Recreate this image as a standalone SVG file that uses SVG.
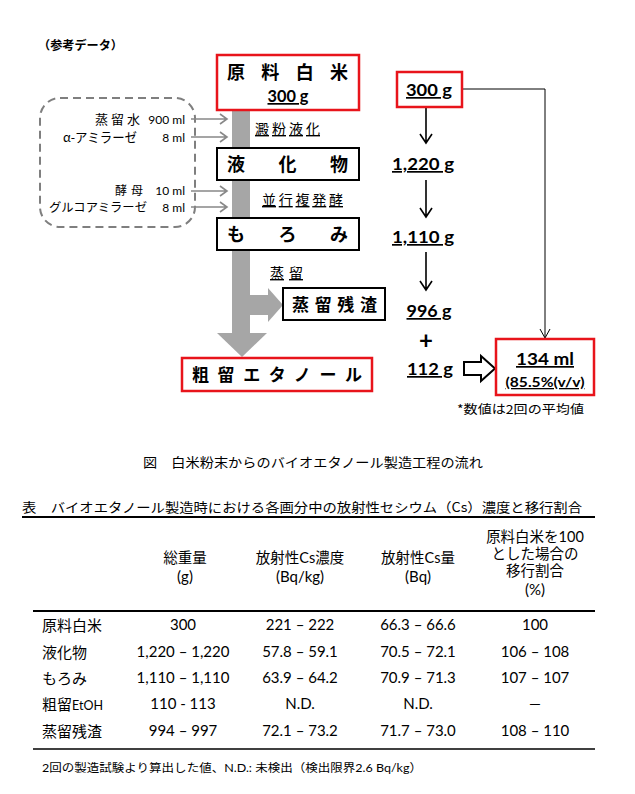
<svg xmlns="http://www.w3.org/2000/svg" width="635" height="794" viewBox="0 0 635 794">
<defs>
<style>
.jp{font-family:"Noto Sans CJK JP",sans-serif;}
.mix{font-family:"Lato","Noto Sans CJK JP",sans-serif;}
.bold{font-weight:bold;}
.ul{text-decoration:underline;}
.red{fill:#fff;stroke:#e8141b;stroke-width:2.5;}
.blk{fill:#fff;stroke:#000;stroke-width:2;}
.gray{fill:#a6a6a6;}
.garr{stroke:#888;stroke-width:1.6;fill:none;}
.barr{stroke:#000;stroke-width:1.6;fill:none;}
.tl{stroke:#000;fill:none;}
</style>
</defs>
<rect width="635" height="794" fill="#fff"/>

<text class="jp bold" x="38" y="50" font-size="12" textLength="85" lengthAdjust="spacingAndGlyphs">（参考データ）</text>

<!-- gray process flow -->
<g id="flow-gray">
<rect class="gray" x="232" y="108" width="18" height="226"/>
<polygon class="gray" points="217,333 267,333 242,357"/>
<rect class="gray" x="249" y="295" width="20" height="20"/>
<polygon class="gray" points="268,288 283,305 268,322"/>
</g>

<!-- dashed additive box -->
<g id="additives">
<rect x="40" y="98" width="155" height="129" rx="20" ry="20" fill="none" stroke="#7f7f7f" stroke-width="2" stroke-dasharray="8 5"/>
<text class="jp" x="140" y="124" font-size="13" text-anchor="end" textLength="45" lengthAdjust="spacing">蒸留水</text>
<text class="mix" x="185" y="124" font-size="12" text-anchor="end">900 ml</text>
<text class="jp" x="137" y="142" font-size="13" text-anchor="end" textLength="74" lengthAdjust="spacingAndGlyphs">α-アミラーゼ</text>
<text class="mix" x="185" y="142" font-size="12" text-anchor="end">8 ml</text>
<text class="jp" x="143" y="195" font-size="12" text-anchor="end" textLength="28" lengthAdjust="spacing">酵母</text>
<text class="mix" x="185" y="195" font-size="12" text-anchor="end">10 ml</text>
<text class="jp" x="147" y="212" font-size="12" text-anchor="end" textLength="98" lengthAdjust="spacingAndGlyphs">グルコアミラーゼ</text>
<text class="mix" x="185" y="212" font-size="12" text-anchor="end">8 ml</text>
</g>

<g id="connectors">
<path class="garr" d="M191,119 H227 M220,114 L227,119 L220,124"/>
<path class="garr" d="M191,137 H227 M220,132 L227,137 L220,142"/>
<path class="garr" d="M191,191 H227 M220,186 L227,191 L220,196"/>
<path class="garr" d="M191,207 H227 M220,202 L227,207 L220,212"/>
<path class="barr" d="M426,107 V142 M420,134 L426,143 L432,134"/>
<path class="barr" d="M426,180 V216 M420,208 L426,217 L432,208"/>
<path class="barr" d="M426,252 V289 M420,281 L426,290 L432,281"/>
<path d="M462,89 H545 V337 M540,329 L545,338 L550,329" stroke="#000" stroke-width="1" fill="none"/>
<polygon points="464,362 481,362 481,356 495,368.5 481,381 481,375 464,375" fill="#fff" stroke="#000" stroke-width="2"/>
</g>

<g id="node-raw">
<rect class="red" x="217" y="55" width="142" height="55"/>
<text class="jp bold" x="227" y="79" font-size="18" textLength="121" lengthAdjust="spacing">原料白米</text>
<text class="mix bold ul" x="288" y="102" font-size="17" text-anchor="middle" textLength="41" lengthAdjust="spacingAndGlyphs">300 g</text>
</g>
<text class="jp ul" x="255" y="134" font-size="14" textLength="65" lengthAdjust="spacing">澱粉液化</text>

<g id="node-liq">
<rect class="blk" x="217" y="148" width="142" height="32"/>
<text class="jp bold" x="227" y="171" font-size="18" textLength="121" lengthAdjust="spacing">液化物</text>
</g>
<text class="jp ul" x="262" y="205" font-size="14" textLength="81" lengthAdjust="spacing">並行複発酵</text>

<g id="node-moromi">
<rect class="blk" x="217" y="218" width="142" height="32"/>
<text class="jp bold" x="227" y="241" font-size="18" textLength="121" lengthAdjust="spacing">もろみ</text>
</g>
<text class="jp ul" x="270" y="278" font-size="14" textLength="33" lengthAdjust="spacing">蒸留</text>

<g id="node-residue">
<rect class="blk" x="283" y="288" width="102" height="32"/>
<text class="jp bold" x="292" y="311" font-size="17" textLength="85" lengthAdjust="spacing">蒸留残渣</text>
</g>

<g id="node-ethanol">
<rect class="red" x="182" y="358" width="190" height="33"/>
<text class="jp bold" x="192" y="381" font-size="17" textLength="170" lengthAdjust="spacing">粗留エタノール</text>
</g>

<g id="node-300">
<rect class="red" x="397" y="72" width="65" height="35"/>
<text class="mix bold ul" x="429" y="96" font-size="17" text-anchor="middle" textLength="46" lengthAdjust="spacingAndGlyphs">300 g</text>
</g>
<text class="mix bold ul" x="423" y="170" font-size="17" text-anchor="middle" textLength="62" lengthAdjust="spacingAndGlyphs">1,220 g</text>
<text class="mix bold ul" x="423" y="243" font-size="17" text-anchor="middle" textLength="62" lengthAdjust="spacingAndGlyphs">1,110 g</text>
<text class="mix bold ul" x="429" y="317" font-size="17" text-anchor="middle" textLength="45" lengthAdjust="spacingAndGlyphs">996 g</text>
<text class="mix bold" x="426" y="349" font-size="24" text-anchor="middle">+</text>
<text class="mix bold ul" x="430" y="375" font-size="17" text-anchor="middle" textLength="46" lengthAdjust="spacingAndGlyphs">112 g</text>

<g id="node-134">
<rect class="red" x="496" y="339" width="98" height="56"/>
<text class="mix bold ul" x="545" y="365" font-size="17" text-anchor="middle" textLength="58" lengthAdjust="spacingAndGlyphs">134 ml</text>
<text class="mix bold ul" x="545" y="387" font-size="13" text-anchor="middle" textLength="79" lengthAdjust="spacingAndGlyphs">(85.5%(v/v)</text>
</g>
<text class="jp" x="457" y="414" font-size="12" textLength="127" lengthAdjust="spacingAndGlyphs">*数値は2回の平均値</text>

<text class="jp" x="143" y="467" font-size="13" textLength="340" lengthAdjust="spacingAndGlyphs">図　白米粉末からのバイオエタノール製造工程の流れ</text>

<!-- table -->
<g id="table">
<text class="jp" x="22" y="512" font-size="13" textLength="560" lengthAdjust="spacingAndGlyphs">表　バイオエタノール製造時における各画分中の放射性セシウム（Cs）濃度と移行割合</text>
<line class="tl" x1="22" y1="517" x2="595" y2="517" stroke-width="2"/>
<line class="tl" x1="33" y1="611" x2="595" y2="611" stroke-width="2"/>
<line class="tl" x1="33" y1="749" x2="595" y2="749" stroke-width="1.5"/>
<g class="mix" font-size="15" text-anchor="middle">
<text x="185" y="563" font-size="14.5">総重量</text>
<text x="185" y="582">(g)</text>
<text x="300" y="563" font-size="14.5">放射性Cs濃度</text>
<text x="300" y="582">(Bq/kg)</text>
<text x="418" y="563" font-size="14.5">放射性Cs量</text>
<text x="418" y="582">(Bq)</text>
<text x="535" y="542" font-size="14.5">原料白米を100</text>
<text x="535" y="559" font-size="14.5">とした場合の</text>
<text x="535" y="576" font-size="14.5">移行割合</text>
<text x="535" y="595">(%)</text>

<text x="183" y="630">300</text>
<text x="300" y="630">221 – 222</text>
<text x="418" y="630">66.3 – 66.6</text>
<text x="535" y="630">100</text>

<text x="183" y="657">1,220 – 1,220</text>
<text x="300" y="657">57.8 – 59.1</text>
<text x="418" y="657">70.5 – 72.1</text>
<text x="535" y="657">106 – 108</text>

<text x="183" y="683">1,110 – 1,110</text>
<text x="300" y="683">63.9 – 64.2</text>
<text x="418" y="683">70.9 – 71.3</text>
<text x="535" y="683">107 – 107</text>

<text x="183" y="709">110 - 113</text>
<text x="300" y="709">N.D.</text>
<text x="418" y="709">N.D.</text>
<text x="535" y="709">—</text>

<text x="183" y="736">994 – 997</text>
<text x="300" y="736">72.1 – 73.2</text>
<text x="418" y="736">71.7 – 73.0</text>
<text x="535" y="736">108 – 110</text>
</g>
<g class="mix" font-size="15">
<text x="42" y="631">原料白米</text>
<text x="42" y="658">液化物</text>
<text x="42" y="684">もろみ</text>
<text x="42" y="710">粗留<tspan font-size="12.5">EtOH</tspan></text>
<text x="42" y="737">蒸留残渣</text>
</g>
<text class="mix" x="42" y="772" font-size="11.5" textLength="380" lengthAdjust="spacingAndGlyphs">2回の製造試験より算出した値、N.D.: 未検出（検出限界2.6 Bq/kg）</text>
</g>
</svg>
